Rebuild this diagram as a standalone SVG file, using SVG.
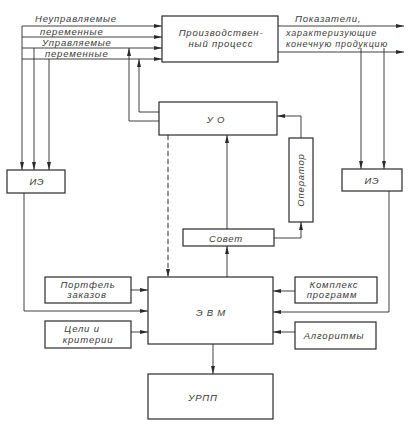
<svg xmlns="http://www.w3.org/2000/svg" width="414" height="429" viewBox="0 0 414 429">
<defs>
<marker id="ar" viewBox="0 0 8 4" refX="8" refY="2" markerWidth="8" markerHeight="4" markerUnits="userSpaceOnUse" orient="auto">
<path d="M0,0 L8,2 L0,4 Z" fill="#2a2a2a"/>
</marker>
</defs>
<style>
.b{fill:#fff;stroke:#2a2a2a;stroke-width:1.2}
.l{fill:none;stroke:#2a2a2a;stroke-width:0.9}
.a{fill:none;stroke:#2a2a2a;stroke-width:0.9;marker-end:url(#ar)}
.d{fill:none;stroke:#2a2a2a;stroke-width:1;stroke-dasharray:5,3;marker-end:url(#ar)}
text{font-family:"Liberation Sans",Arial,sans-serif;font-style:italic;font-size:9.5px;fill:#3a3a3a;letter-spacing:0.8px}
.c{text-anchor:middle}
.s{font-size:9px}
</style>
<rect width="414" height="429" fill="#fff"/>
<g id="connectors">
<line class="a" x1="22" y1="26" x2="162" y2="26"/>
<line class="a" x1="22" y1="37" x2="162" y2="37"/>
<line class="a" x1="22" y1="48" x2="162" y2="48"/>
<line class="a" x1="22" y1="59" x2="162" y2="59"/>
<line class="a" x1="22" y1="26" x2="22" y2="170"/>
<line class="a" x1="34" y1="48" x2="34" y2="170"/>
<line class="a" x1="49" y1="59" x2="49" y2="170"/>
<polyline class="a" points="159,121 129,121 129,48"/>
<polyline class="a" points="159,112 139,112 139,59"/>
<line class="a" x1="278" y1="26" x2="404" y2="26"/>
<line class="a" x1="278" y1="52" x2="404" y2="52"/>
<line class="a" x1="361" y1="48" x2="361" y2="169"/>
<line class="a" x1="384" y1="48" x2="384" y2="169"/>
<line class="d" x1="168" y1="135" x2="168" y2="277"/>
<line class="a" x1="227" y1="229" x2="227" y2="135"/>
<line class="a" x1="227" y1="277" x2="227" y2="246"/>
<polyline class="a" points="274,238 301,238 301,222"/>
<polyline class="a" points="301,138 301,116 277,116"/>
<polyline class="a" points="24,193 24,311 148,311"/>
<line class="a" x1="131" y1="290" x2="148" y2="290"/>
<line class="a" x1="131" y1="332" x2="148" y2="332"/>
<line class="a" x1="295" y1="291" x2="273" y2="291"/>
<line class="a" x1="295" y1="332" x2="273" y2="332"/>
<polyline class="a" points="389,191 389,312 273,312"/>
<line class="a" x1="213" y1="344" x2="213" y2="374"/>
</g>
<g id="labels-in">
<text x="35" y="22">Неуправляемые</text>
<text x="40" y="34.5">переменные</text>
<text x="42" y="45.5">Управляемые</text>
<text x="45" y="57">переменные</text>
</g>
<g id="labels-out">
<text x="295" y="22">Показатели,</text>
<text class="s" x="286" y="36">характеризующие</text>
<text class="s" x="286" y="46.5">конечную продукцию</text>
</g>
<g id="process">
<rect class="b" x="162" y="16" width="116" height="46"/>
<text class="c" x="221" y="36">Производствен-</text>
<text class="c" x="221" y="47">ный процесс</text>
</g>
<g id="uo">
<rect class="b" x="159" y="102" width="118" height="33"/>
<text class="c" x="216" y="123">У О</text>
</g>
<g id="ie-left">
<rect class="b" x="7" y="170" width="58" height="23"/>
<text class="c" x="37" y="185">ИЭ</text>
</g>
<g id="ie-right">
<rect class="b" x="342" y="169" width="60" height="22"/>
<text class="c" x="372" y="184">ИЭ</text>
</g>
<g id="operator">
<rect class="b" x="289" y="138" width="24" height="84"/>
<text class="c" transform="translate(304,180) rotate(-90)">Оператор</text>
</g>
<g id="sovet">
<rect class="b" x="183" y="229" width="91" height="17"/>
<text class="c" x="226" y="242">Совет</text>
</g>
<g id="evm">
<rect class="b" x="148" y="277" width="125" height="67"/>
<text class="c" x="211" y="316">Э В М</text>
</g>
<g id="portfel">
<rect class="b" x="45" y="277" width="86" height="26"/>
<text class="c" x="88" y="288">Портфель</text>
<text class="c" x="87" y="298">заказов</text>
</g>
<g id="tseli">
<rect class="b" x="45" y="321" width="86" height="27"/>
<text class="c" x="82" y="332">Цели и</text>
<text class="c" x="88" y="343">критерии</text>
</g>
<g id="kompleks">
<rect class="b" x="295" y="277" width="82" height="26"/>
<text class="c" x="334" y="288">Комплекс</text>
<text class="c" x="332" y="298">программ</text>
</g>
<g id="algoritmy">
<rect class="b" x="295" y="322" width="81" height="27"/>
<text class="c" x="334" y="339">Алгоритмы</text>
</g>
<g id="urpp">
<rect class="b" x="148" y="374" width="125" height="45"/>
<text class="c" x="203" y="401">УРПП</text>
</g>
</svg>
